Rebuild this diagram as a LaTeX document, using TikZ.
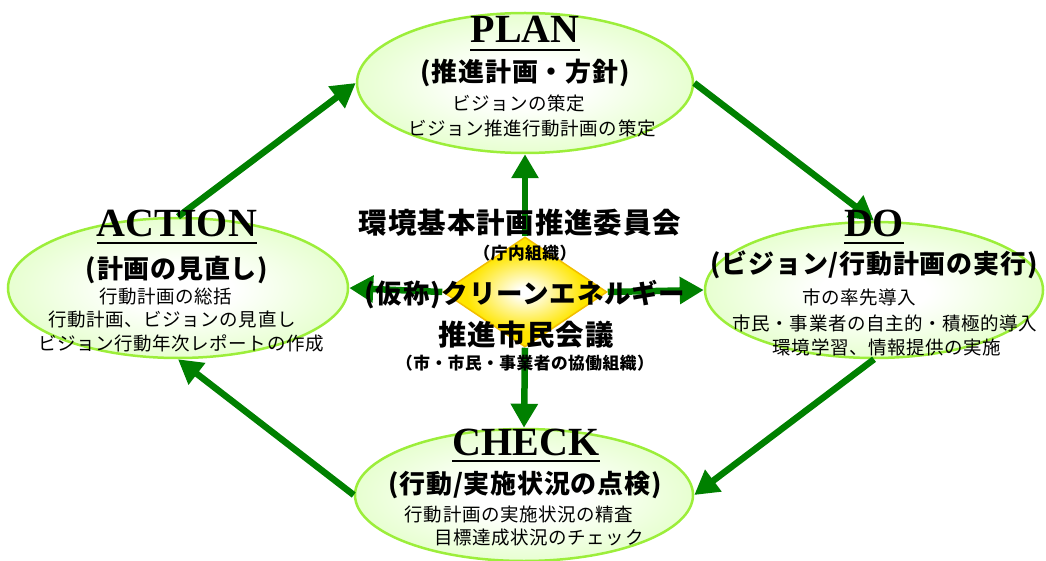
\documentclass[tikz,border=0pt]{standalone}
\usepackage{fontspec}
\setmainfont{Liberation Serif}
\newfontfamily\jp[LetterSpace=3]{Noto Sans CJK JP}
\usetikzlibrary{shapes.geometric,arrows.meta}
\definecolor{ellfill}{HTML}{C4FF8C}
\definecolor{ellborder}{HTML}{9CEE3A}
\definecolor{diafill}{HTML}{FFE600}
\definecolor{diaborder}{HTML}{F2BE00}
\definecolor{arrgreen}{HTML}{008000}
\pgfdeclareradialshading{ellgrad}{\pgfpoint{0bp}{0bp}}{color(0bp)=(white); color(8bp)=(white); color(50bp)=(ellfill)}
\pgfdeclareradialshading{diagrad}{\pgfpoint{0bp}{0bp}}{color(0bp)=(white); color(2bp)=(white); color(18bp)=(diafill); color(50bp)=(diafill)}
\tikzset{
  ell/.style={ellipse, draw=ellborder, line width=2.5pt, shading=ellgrad, inner sep=0pt},
  dia/.style={diamond, draw=diaborder, line width=1.5pt, shading=diagrad, inner sep=0pt, minimum width=164pt, minimum height=110pt},
  arr/.style={draw=arrgreen, line width=6.5pt, -{Triangle[length=24pt,width=26pt]}},
  ttl/.style={font=\fontsize{40}{44}\selectfont\bfseries, inner sep=0pt, anchor=base},
  subt/.style={font=\jp\bfseries\fontsize{26}{30}\selectfont, inner sep=0pt},
  ln/.style={font=\jp\fontsize{18.5}{22}\selectfont, inner sep=0pt},
  cbig/.style={font=\jp\bfseries\fontsize{28.5}{32}\selectfont, inner sep=0pt},
  cmid/.style={font=\jp\bfseries\fontsize{26.5}{30}\selectfont, inner sep=0pt},
  csmall/.style={font=\jp\bfseries\fontsize{16.7}{20}\selectfont, inner sep=0pt},
  uline/.style={line width=2.5pt}
}
\begin{document}
\begin{tikzpicture}[x=1pt,y=1pt]
\useasboundingbox (0,0) rectangle (1046,-561);
% ellipses
\node[ell, minimum width=336pt, minimum height=140pt] (plan) at (525,-83) {};
\node[ell, minimum width=340pt, minimum height=140pt] (action) at (178,-288) {};
\node[ell, minimum width=338pt, minimum height=136pt] (do) at (874,-290) {};
\node[ell, minimum width=338pt, minimum height=132pt] (check) at (524,-495) {};
% cycle arrows
\draw[arr] (action.north) -- (plan.west);
\draw[arr] (plan.east) -- (do.north);
\draw[arr] (do.south) -- (check.east);
\draw[arr] (check.west) -- (action.south);
% centre
\node[dia] (dia) at (525,-292) {};
\draw[arr] (dia.north) -- (plan.south);
\draw[arr] (dia.south) -- (check.north);
\draw[arr] (dia.west) -- (action.east);
\draw[arr] (dia.east) -- (do.west);
% PLAN texts
\node[ttl] (tplan) at (525,-43) {PLAN};
\draw[uline] ([yshift=-7pt]tplan.base west) -- ([yshift=-7pt]tplan.base east);
\node[subt] (splan) at (525,-73) {(推進計画・方針)};
\node[ln] (p1) at (519,-103) {ビジョンの策定};
\node[ln] (p2) at (532,-128) {ビジョン推進行動計画の策定};
% ACTION texts
\node[ttl] (taction) at (177,-237) {ACTION};
\draw[uline] ([yshift=-6pt]taction.base west) -- ([yshift=-6pt]taction.base east);
\node[subt] (saction) at (177,-270) {(計画の見直し)};
\node[ln] (a1) at (166,-297) {行動計画の総括};
\node[ln] (a2) at (172,-319) {行動計画、ビジョンの見直し};
\node[ln] (a3) at (181,-343) {ビジョン行動年次レポートの作成};
% DO texts
\node[ttl] (tdo) at (874,-237) {DO};
\draw[uline] ([yshift=-6pt]tdo.base west) -- ([yshift=-6pt]tdo.base east);
\node[subt] (sdo) at (874,-265) {(ビジョン/行動計画の実行)};
\node[ln] (d1) at (859,-297) {市の率先導入};
\node[ln] (d2) at (885,-323) {市民・事業者の自主的・積極的導入};
\node[ln] (d3) at (887,-347) {環境学習、情報提供の実施};
% CHECK texts
\node[ttl] (tcheck) at (526,-455) {CHECK};
\draw[uline] ([yshift=-6pt]tcheck.base west) -- ([yshift=-6pt]tcheck.base east);
\node[subt] (scheck) at (525,-485) {(行動/実施状況の点検)};
\node[ln] (c1) at (519,-515) {行動計画の実施状況の精査};
\node[ln] (c2) at (539,-538) {目標達成状況のチェック};
% centre texts
\node[cbig] (k1) at (520,-223) {環境基本計画推進委員会};
\node[csmall] (k2) at (525,-253) {（庁内組織）};
\node[cmid] (k3) at (525,-295) {(仮称)クリーンエネルギー};
\node[cbig] (k4) at (526,-335) {推進市民会議};
\node[csmall] (k5) at (525,-363) {（市・市民・事業者の協働組織）};
\end{tikzpicture}
\end{document}
